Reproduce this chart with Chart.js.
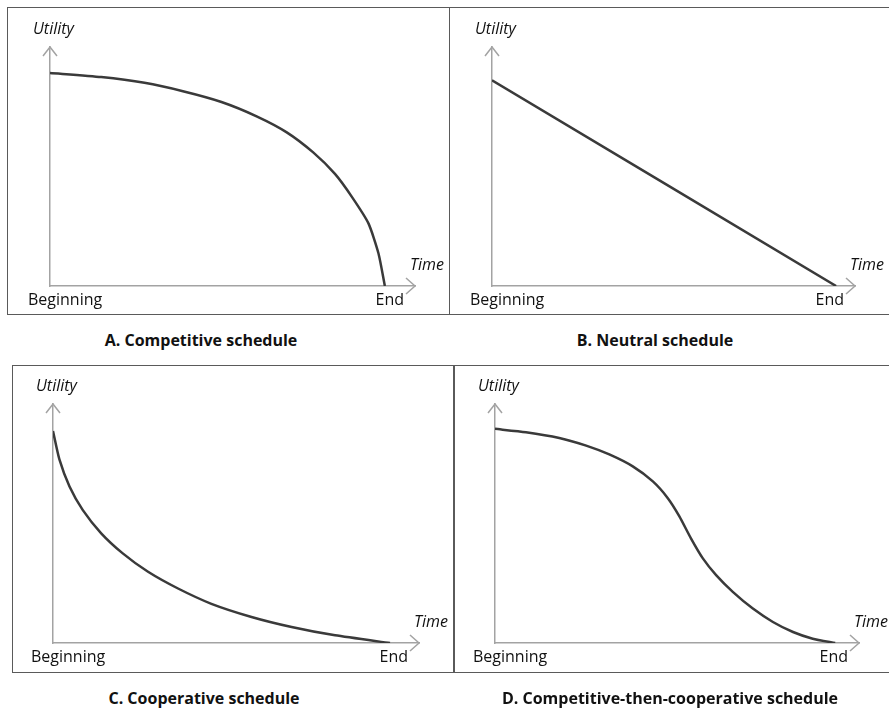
<!DOCTYPE html>
<html>
<head>
<meta charset="utf-8">
<script src="https://cdn.jsdelivr.net/npm/chart.js@4"></script>
<style>
    body { margin: 0; width: 889px; height: 711px; overflow: hidden; background: #fff; position: relative; font-family: "Open Sans", sans-serif; }
    .box { position: absolute; box-sizing: border-box; border: 1.5px solid #5a5a5a; }
    .box canvas { position: absolute; left: 0; top: 0; }
    .caption { position: absolute; font-weight: bold; font-size: 16px; color: #111; transform: translate(-50%, -50%); white-space: nowrap; }
</style>
</head>
<body>
<div class="box" style="left:7px; top:7px; width:443px; height:308px;"><canvas id="chartA" width="443" height="308"></canvas></div>
<div class="box" style="left:449px; top:7px; width:460px; height:308px;"><canvas id="chartB" width="460" height="308"></canvas></div>
<div class="box" style="left:12px; top:365px; width:443px; height:308px;"><canvas id="chartC" width="443" height="308"></canvas></div>
<div class="box" style="left:453px; top:365px; width:460px; height:308px;"><canvas id="chartD" width="460" height="308"></canvas></div>
<div class="caption" style="left:201px; top:340px;">A. Competitive schedule</div>
<div class="caption" style="left:655px; top:340px;">B. Neutral schedule</div>
<div class="caption" style="left:204px; top:698px;">C. Cooperative schedule</div>
<div class="caption" style="left:670px; top:698px;">D. Competitive-then-cooperative schedule</div>
<script>
// axis texts
const yAxisTitle = "Utility";
const xAxisTitle = "Time";
const xTickLabels = ["Beginning", "End"];

// A. competitive (time 0..1 = Beginning..End, utility relative to axis height)
const competitiveTime = [0, 0.153, 0.282, 0.397, 0.512, 0.617, 0.707, 0.786, 0.851, 0.901, 0.951, 0.981, 1.0];
const competitiveUtility = [0.891, 0.874, 0.850, 0.815, 0.770, 0.710, 0.643, 0.559, 0.469, 0.374, 0.262, 0.136, 0];

// B. neutral
const neutralTime = [0, 1.0];
const neutralUtility = [0.861, 0];

// C. cooperative
const cooperativeTime = [0, 0.019, 0.049, 0.088, 0.143, 0.207, 0.282, 0.371, 0.470, 0.589, 0.708, 0.837, 1.0];
const cooperativeUtility = [0.887, 0.768, 0.655, 0.557, 0.459, 0.375, 0.298, 0.228, 0.164, 0.109, 0.067, 0.032, 0];

// D. competitive-then-cooperative
const mixedTime = [0, 0.091, 0.189, 0.268, 0.336, 0.405, 0.464, 0.508, 0.542, 0.576, 0.611, 0.650, 0.699, 0.758, 0.817, 0.876, 0.934, 1.0];
const mixedUtility = [0.896, 0.882, 0.858, 0.826, 0.789, 0.739, 0.676, 0.606, 0.530, 0.438, 0.354, 0.284, 0.214, 0.144, 0.088, 0.046, 0.018, 0];

const axisColor = "#a3a3a3";
const curveColor = "#3a3a3a";
const textColor = "#111";

// arrows + axis words, drawn around the chart area
const decorPlugin = {
    id: "decor",
    afterDraw(chart) {
        const ctx = chart.ctx;
        const a = chart.chartArea;
        ctx.save();
        ctx.strokeStyle = axisColor;
        ctx.lineWidth = 1.5;
        ctx.beginPath();
        ctx.moveTo(a.left - 7, a.top + 9);
        ctx.lineTo(a.left, a.top);
        ctx.lineTo(a.left + 7, a.top + 9);
        ctx.moveTo(a.right - 9, a.bottom - 8);
        ctx.lineTo(a.right, a.bottom);
        ctx.lineTo(a.right - 9, a.bottom + 8);
        ctx.stroke();

        ctx.fillStyle = textColor;
        ctx.textBaseline = "middle";
        ctx.font = "italic 16px 'Open Sans'";
        ctx.textAlign = "left";
        ctx.fillText(yAxisTitle, a.left - 17, a.top - 18);
        ctx.fillText(xAxisTitle, a.right - 5, a.bottom - 21);
        ctx.font = "16px 'Open Sans'";
        ctx.fillText(xTickLabels[0], a.left - 22, a.bottom + 14);
        ctx.textAlign = "right";
        ctx.fillText(xTickLabels[1], a.right - 11, a.bottom + 14);
        ctx.restore();
    }
};

function makeChart(id, times, utilities, xMax, pad) {
    const points = times.map((t, i) => ({ x: t, y: utilities[i] }));
    return new Chart(document.getElementById(id).getContext("2d"), {
        type: "line",
        data: {
            datasets: [
                {
                    data: points,
                    borderColor: curveColor,
                    borderWidth: 2.5,
                    pointRadius: 0,
                    tension: 0.2,
                    fill: false
                }
            ]
        },
        options: {
            responsive: false,
            animation: false,
            layout: { padding: pad },
            plugins: { legend: { display: false }, tooltip: { enabled: false } },
            scales: {
                x: {
                    type: "linear",
                    min: 0,
                    max: xMax,
                    grid: { display: false, drawTicks: false },
                    ticks: { display: false },
                    border: { color: axisColor, width: 1.5 }
                },
                y: {
                    min: 0,
                    max: 1,
                    grid: { display: false, drawTicks: false },
                    ticks: { display: false },
                    border: { color: axisColor, width: 1.5 }
                }
            }
        },
        plugins: [decorPlugin]
    });
}

makeChart("chartA", competitiveTime, competitiveUtility, 1.09, { left: 42, top: 39, right: 36, bottom: 30 });
makeChart("chartB", neutralTime, neutralUtility, 1.055, { left: 42, top: 39, right: 55, bottom: 30 });
makeChart("chartC", cooperativeTime, cooperativeUtility, 1.086, { left: 40, top: 38, right: 37, bottom: 31 });
makeChart("chartD", mixedTime, mixedUtility, 1.07, { left: 41, top: 38, right: 55, bottom: 31 });
</script>
</body>
</html>
